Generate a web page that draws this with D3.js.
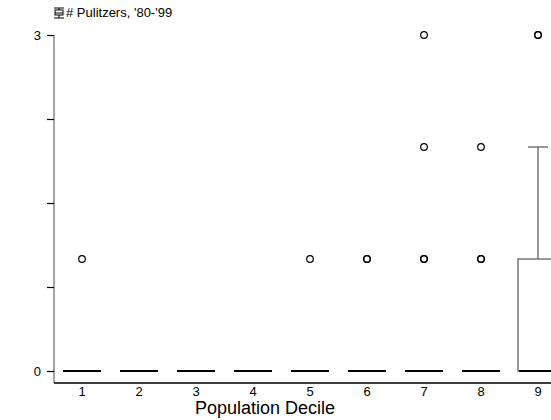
<!DOCTYPE html>
<html>
<head>
<meta charset="utf-8">
<script src="https://cdn.jsdelivr.net/npm/d3@7"></script>
<style>
  body { margin: 0; background: #fff; }
  svg { display: block; font-family: "Liberation Sans", Arial, sans-serif; }
</style>
</head>
<body>
<svg width="551" height="420"></svg>
<script>
// box stats per population decile (decile 10 falls off the right edge)
let deciles = [1, 2, 3, 4, 5, 6, 7, 8, 9];
let q1 = [0, 0, 0, 0, 0, 0, 0, 0, 0];
let medians = [0, 0, 0, 0, 0, 0, 0, 0, 0];
let q3 = [0, 0, 0, 0, 0, 0, 0, 0, 1];
let whiskerHi = [0, 0, 0, 0, 0, 0, 0, 0, 2];
// outliers, repeated values are drawn on top of each other
let outliers = [[1], [], [], [], [1], [1, 1], [1, 1, 2, 3], [1, 1, 2], [3, 3]];
let yTickValues = [0, 0.75, 1.5, 2.25, 3];
let yLabels = {0: "0", 3: "3"};

let svg = d3.select("svg");

let x = d3.scaleLinear().domain([1, 9]).range([82, 538]);
let y = d3.scaleLinear().domain([0, 3]).range([371, 35]);
let halfW = 19;

// y axis
let yAxis = svg.append("g").attr("transform", "translate(54,0)")
  .call(d3.axisLeft(y).tickValues(yTickValues).tickSize(7).tickPadding(6)
    .tickFormat(d => yLabels[d] || ""));
yAxis.select(".domain").attr("stroke", "#888").attr("stroke-width", 1.5)
  .attr("d", "M0," + y(3) + "V" + 383);
yAxis.selectAll(".tick line").attr("stroke", "#000").attr("stroke-width", 1.2);
yAxis.selectAll(".tick text").attr("font-size", 13).attr("fill", "#000")
  .attr("font-family", "Liberation Sans, Arial, sans-serif");

// x axis
svg.append("line").attr("x1", 54).attr("x2", 551).attr("y1", 383).attr("y2", 383)
  .attr("stroke", "#000").attr("stroke-width", 1.5);
svg.selectAll(".xlab").data(deciles).enter().append("text")
  .attr("class", "xlab")
  .attr("x", d => x(d)).attr("y", 396)
  .attr("text-anchor", "middle").attr("font-size", 13)
  .text(d => d);
svg.append("text").attr("x", 265).attr("y", 414)
  .attr("text-anchor", "middle").attr("font-size", 18)
  .text("Population Decile");

// title with box plot glyph
let icon = svg.append("g").attr("transform", "translate(59,13)").attr("stroke", "#000").attr("fill", "none");
icon.append("line").attr("x1", -5).attr("x2", 5).attr("y1", -5).attr("y2", -5);
icon.append("rect").attr("x", -4).attr("y", -3).attr("width", 8).attr("height", 5);
icon.append("line").attr("x1", -4).attr("x2", 4).attr("y1", 0).attr("y2", 0);
icon.append("line").attr("x1", 0).attr("x2", 0).attr("y1", -5).attr("y2", -3);
icon.append("line").attr("x1", 0).attr("x2", 0).attr("y1", 2).attr("y2", 5);
icon.append("line").attr("x1", -5).attr("x2", 5).attr("y1", 5).attr("y2", 5);
svg.append("text").attr("x", 66).attr("y", 17).attr("font-size", 13)
  .text("# Pulitzers, '80-'99");

// boxes
let boxes = svg.selectAll(".box").data(deciles).enter().append("g").attr("class", "box");
boxes.each(function(d, i) {
  let g = d3.select(this);
  let cx = x(d);
  if (whiskerHi[i] > q3[i]) {
    g.append("line").attr("x1", cx).attr("x2", cx)
      .attr("y1", y(q3[i])).attr("y2", y(whiskerHi[i]))
      .attr("stroke", "#555").attr("stroke-width", 1.2);
    g.append("line").attr("x1", cx - 10).attr("x2", cx + 10)
      .attr("y1", y(whiskerHi[i])).attr("y2", y(whiskerHi[i]))
      .attr("stroke", "#555").attr("stroke-width", 1.2);
  }
  if (q3[i] > q1[i]) {
    g.append("rect").attr("x", cx - 20).attr("width", 40)
      .attr("y", y(q3[i])).attr("height", y(q1[i]) - y(q3[i]))
      .attr("fill", "#fff").attr("stroke", "#555").attr("stroke-width", 1.2);
  }
  g.append("line").attr("x1", cx - halfW).attr("x2", cx + halfW)
    .attr("y1", y(medians[i])).attr("y2", y(medians[i]))
    .attr("stroke", "#000").attr("stroke-width", 2.2);
  g.selectAll("circle").data(outliers[i]).enter().append("circle")
    .attr("cx", cx).attr("cy", v => y(v)).attr("r", 3.3)
    .attr("fill", "none").attr("stroke", "#000").attr("stroke-width", 1.2);
});
</script>
</body>
</html>
